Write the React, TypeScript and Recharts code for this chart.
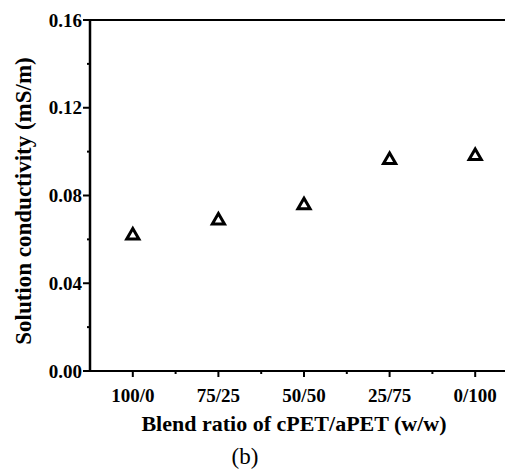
import React from 'react';
import { ScatterChart, Scatter, XAxis, YAxis, ZAxis, ReferenceLine, Label } from 'recharts';

const blendRatios = ['100/0', '75/25', '50/50', '25/75', '0/100'];
const conductivity = [0.0618, 0.0686, 0.0756, 0.0962, 0.098];
const yTicks = [0, 0.02, 0.04, 0.06, 0.08, 0.1, 0.12, 0.14, 0.16];
const xTicks = [1, 1.5, 2, 2.5, 3, 3.5, 4, 4.5, 5, 5.5];

const data = blendRatios.map((name, i) => ({ pos: i + 1, name, value: conductivity[i] }));

const font = '"Liberation Serif", "Times New Roman", serif';

const XTick = (props: any) => {
  const { x, y, payload } = props;
  const v = payload.value;
  const major = Number.isInteger(v);
  return (
    <g>
      <line x1={x} x2={x} y1={y} y2={y + (major ? 6 : 3)} stroke="#000" strokeWidth={2} />
      {major && (
        <text x={x} y={y + 31} textAnchor="middle" fontFamily={font} fontWeight="bold" fontSize={19} fill="#000">
          {blendRatios[v - 1]}
        </text>
      )}
    </g>
  );
};

const YTick = (props: any) => {
  const { x, y, payload } = props;
  const v = payload.value;
  const major = Math.round(v * 100) % 4 === 0;
  return (
    <g>
      <line x1={x} x2={x - (major ? 7 : 3)} y1={y} y2={y} stroke="#000" strokeWidth={2} />
      {major && (
        <text x={x - 8} y={y} dy="0.35em" textAnchor="end" fontFamily={font} fontWeight="bold" fontSize={19} fill="#000">
          {v.toFixed(2)}
        </text>
      )}
    </g>
  );
};

const YTitle = (props: any) => {
  const cx = 23;
  const cy = 201;
  return (
    <text
      x={cx}
      y={cy}
      transform={`rotate(-90, ${cx}, ${cy})`}
      textAnchor="middle"
      dominantBaseline="central"
      fontFamily={font}
      fontWeight="bold"
      fontSize={23}
      fill="#000"
    >
      Solution conductivity (mS/m)
    </text>
  );
};

export default function App() {
  return (
    <div style={{ position: 'absolute', left: 0, top: 0, width: 505, height: 472, overflow: 'hidden', background: '#fff' }}>
      <ScatterChart width={520} height={440} margin={{ top: 20, right: 2, bottom: 0, left: 0 }}>
        <XAxis
          type="number"
          dataKey="pos"
          domain={[0.5, 5.5]}
          ticks={xTicks}
          interval={0}
          height={69}
          tickSize={0}
          tickMargin={0}
          tickLine={false}
          tick={<XTick />}
          axisLine={{ stroke: '#000', strokeWidth: 2 }}
        >
          <Label
            value="Blend ratio of cPET/aPET (w/w)"
            position="insideBottom"
            offset={9}
            dx={-10}
            style={{ fontFamily: font, fontWeight: 'bold', fontSize: 22, fill: '#000' }}
          />
        </XAxis>
        <YAxis
          type="number"
          dataKey="value"
          domain={[0, 0.16]}
          ticks={yTicks}
          interval={0}
          width={90}
          tickSize={0}
          tickMargin={0}
          tickLine={false}
          tick={<YTick />}
          axisLine={{ stroke: '#000', strokeWidth: 2.5 }}
        >
          <Label content={<YTitle />} />
        </YAxis>
        <ZAxis range={[56, 56]} />
        <ReferenceLine y={0.16} stroke="#000" strokeWidth={2} />
        <Scatter
          data={data}
          shape="triangle"
          fill="#fff"
          stroke="#000"
          strokeWidth={3}
          isAnimationActive={false}
        />
      </ScatterChart>
      <div
        style={{
          position: 'absolute',
          left: 205,
          width: 80,
          top: 443,
          textAlign: 'center',
          fontFamily: font,
          fontSize: 23,
          lineHeight: '28px',
          color: '#000',
        }}
      >
        (b)
      </div>
    </div>
  );
}
